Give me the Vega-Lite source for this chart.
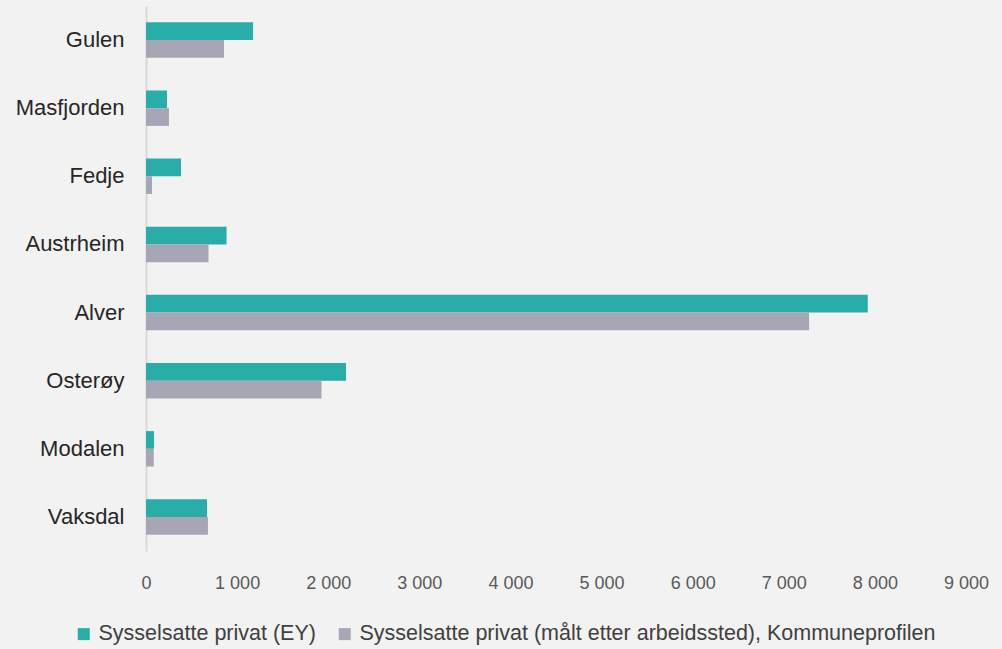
{
  "$schema": "https://vega.github.io/schema/vega-lite/v6.json",
  "width": 820,
  "height": 545,
  "autosize": {"type": "none"},
  "padding": {"left": 146, "top": 6, "right": 36, "bottom": 98},
  "background": "#F2F2F2",
  "config": {"view": {"stroke": null}, "font": "Liberation Sans"},
  "data": {
    "values": [
      {"kommune": "Gulen", "serie": "Sysselsatte privat (EY)", "verdi": 1175},
      {"kommune": "Gulen", "serie": "Sysselsatte privat (målt etter arbeidssted), Kommuneprofilen", "verdi": 856},
      {"kommune": "Masfjorden", "serie": "Sysselsatte privat (EY)", "verdi": 230},
      {"kommune": "Masfjorden", "serie": "Sysselsatte privat (målt etter arbeidssted), Kommuneprofilen", "verdi": 252},
      {"kommune": "Fedje", "serie": "Sysselsatte privat (EY)", "verdi": 384},
      {"kommune": "Fedje", "serie": "Sysselsatte privat (målt etter arbeidssted), Kommuneprofilen", "verdi": 66},
      {"kommune": "Austrheim", "serie": "Sysselsatte privat (EY)", "verdi": 884},
      {"kommune": "Austrheim", "serie": "Sysselsatte privat (målt etter arbeidssted), Kommuneprofilen", "verdi": 686},
      {"kommune": "Alver", "serie": "Sysselsatte privat (EY)", "verdi": 7922},
      {"kommune": "Alver", "serie": "Sysselsatte privat (målt etter arbeidssted), Kommuneprofilen", "verdi": 7278},
      {"kommune": "Osterøy", "serie": "Sysselsatte privat (EY)", "verdi": 2195},
      {"kommune": "Osterøy", "serie": "Sysselsatte privat (målt etter arbeidssted), Kommuneprofilen", "verdi": 1926},
      {"kommune": "Modalen", "serie": "Sysselsatte privat (EY)", "verdi": 88},
      {"kommune": "Modalen", "serie": "Sysselsatte privat (målt etter arbeidssted), Kommuneprofilen", "verdi": 85},
      {"kommune": "Vaksdal", "serie": "Sysselsatte privat (EY)", "verdi": 670},
      {"kommune": "Vaksdal", "serie": "Sysselsatte privat (målt etter arbeidssted), Kommuneprofilen", "verdi": 680}
    ]
  },
  "mark": {"type": "bar"},
  "encoding": {
    "y": {
      "field": "kommune",
      "type": "nominal",
      "sort": ["Gulen", "Masfjorden", "Fedje", "Austrheim", "Alver", "Osterøy", "Modalen", "Vaksdal"],
      "scale": {"paddingInner": 0.48, "paddingOuter": 0.24},
      "axis": {
        "title": null,
        "domainColor": "#D9D9D9",
        "domainWidth": 2,
        "ticks": false,
        "grid": false,
        "labelFontSize": 22,
        "labelColor": "#262626",
        "labelPadding": 22
      }
    },
    "x": {
      "field": "verdi",
      "type": "quantitative",
      "scale": {"domain": [0, 9000]},
      "axis": {
        "title": null,
        "values": [0, 1000, 2000, 3000, 4000, 5000, 6000, 7000, 8000, 9000],
        "domain": false,
        "ticks": false,
        "grid": false,
        "labelFlush": false,
        "labelFontSize": 18,
        "labelColor": "#595959",
        "labelPadding": 23,
        "labelExpr": "replace(format(datum.value, ','), regexp(',', 'g'), ' ')"
      }
    },
    "yOffset": {
      "field": "serie",
      "sort": ["Sysselsatte privat (EY)", "Sysselsatte privat (målt etter arbeidssted), Kommuneprofilen"]
    },
    "color": {
      "field": "serie",
      "type": "nominal",
      "scale": {
        "domain": ["Sysselsatte privat (EY)", "Sysselsatte privat (målt etter arbeidssted), Kommuneprofilen"],
        "range": ["#28ADA9", "#A7A6B5"]
      },
      "legend": {
        "title": null,
        "orient": "none",
        "direction": "horizontal",
        "legendX": -73,
        "legendY": 617,
        "symbolType": "square",
        "symbolSize": 144,
        "symbolStrokeWidth": 0,
        "labelFontSize": 21.5,
        "labelColor": "#404040",
        "labelOffset": 4,
        "columnPadding": 18,
        "labelLimit": 800
      }
    }
  }
}
